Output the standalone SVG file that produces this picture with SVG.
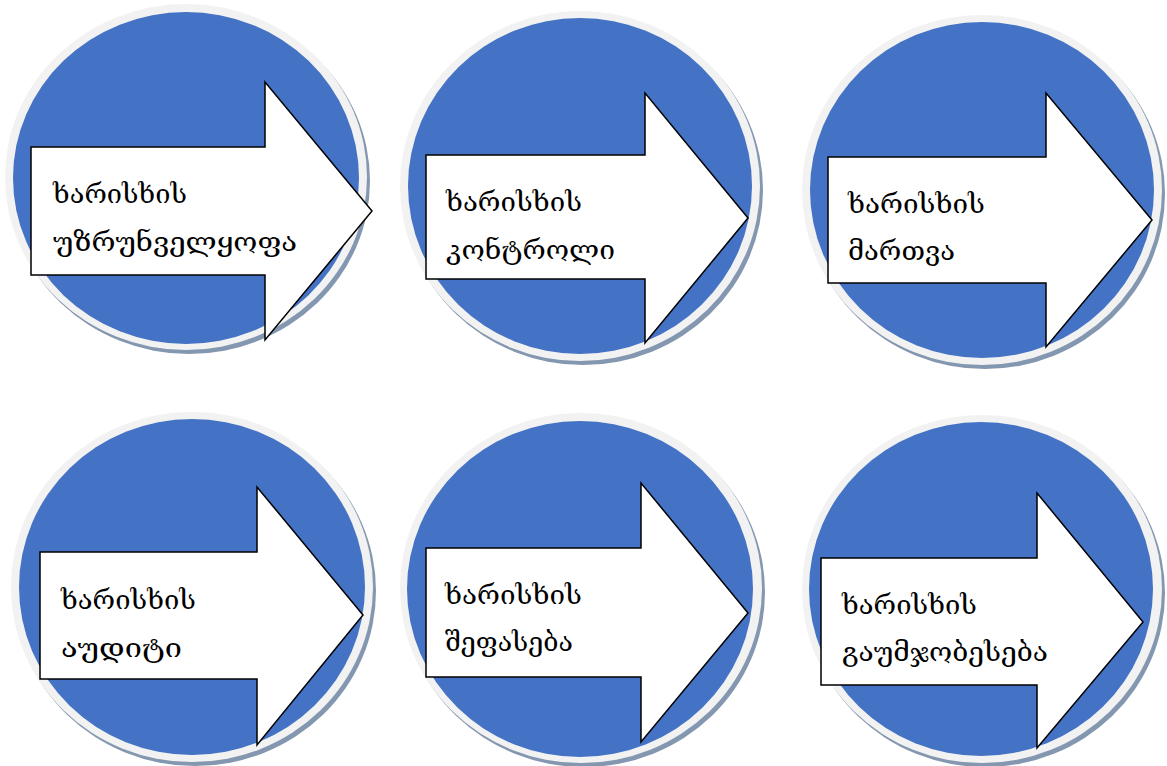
<svg xmlns="http://www.w3.org/2000/svg" width="1167" height="766" viewBox="0 0 1167 766">
<style>
.shadow{fill:#8497b0}
.ring{fill:#f2f2f2}
.disc{fill:#4472c4}
.arrow{fill:#ffffff;stroke:#000000;stroke-width:1.5;stroke-linejoin:miter}
.lbl{font-family:"DejaVu Serif",serif;font-size:26px;fill:#000000}
</style>
<rect width="1167" height="766" fill="#ffffff"/>
<g id="node1">
<ellipse class="shadow" cx="189" cy="181" rx="181" ry="173"/>
<ellipse class="ring" cx="186" cy="177" rx="181" ry="173"/>
<ellipse class="disc" cx="186" cy="178" rx="173" ry="166"/>
<polygon class="arrow" points="31,147 265,147 265,82 372,211 265,340 265,275 31,275"/>
<text class="lbl" x="53" y="203" textLength="134" lengthAdjust="spacingAndGlyphs">ხარისხის</text>
<text class="lbl" x="53" y="251" textLength="244" lengthAdjust="spacingAndGlyphs">უზრუნველყოფა</text>
</g>
<g id="node2">
<ellipse class="shadow" cx="583" cy="190" rx="180" ry="175"/>
<ellipse class="ring" cx="580" cy="186" rx="180" ry="175"/>
<ellipse class="disc" cx="580" cy="186" rx="172" ry="168"/>
<polygon class="arrow" points="426,155 645,155 645,93 748,218 645,343 645,279 426,279"/>
<text class="lbl" x="446" y="211" textLength="136" lengthAdjust="spacingAndGlyphs">ხარისხის</text>
<text class="lbl" x="446" y="259" textLength="169" lengthAdjust="spacingAndGlyphs">კონტროლი</text>
</g>
<g id="node3">
<ellipse class="shadow" cx="985" cy="194" rx="180" ry="175"/>
<ellipse class="ring" cx="982" cy="190" rx="180" ry="175"/>
<ellipse class="disc" cx="982" cy="190" rx="172" ry="168"/>
<polygon class="arrow" points="828,157 1046,157 1046,93 1152,220 1046,347 1046,283 828,283"/>
<text class="lbl" x="848" y="213" textLength="137" lengthAdjust="spacingAndGlyphs">ხარისხის</text>
<text class="lbl" x="848" y="260" textLength="107" lengthAdjust="spacingAndGlyphs">მართვა</text>
</g>
<g id="node4">
<ellipse class="shadow" cx="195" cy="591" rx="181" ry="175"/>
<ellipse class="ring" cx="192" cy="587" rx="181" ry="175"/>
<ellipse class="disc" cx="192" cy="587" rx="173" ry="168"/>
<polygon class="arrow" points="40,552 257,552 257,487 363,615 257,745 257,679 40,679"/>
<text class="lbl" x="61" y="609" textLength="135" lengthAdjust="spacingAndGlyphs">ხარისხის</text>
<text class="lbl" x="61" y="657" textLength="121" lengthAdjust="spacingAndGlyphs">აუდიტი</text>
</g>
<g id="node5">
<ellipse class="shadow" cx="584" cy="592" rx="181" ry="175"/>
<ellipse class="ring" cx="581" cy="588" rx="181" ry="175"/>
<ellipse class="disc" cx="580" cy="589" rx="173" ry="168"/>
<polygon class="arrow" points="426,548 641,548 641,483 748,613 641,742 641,677 426,677"/>
<text class="lbl" x="445" y="604" textLength="137" lengthAdjust="spacingAndGlyphs">ხარისხის</text>
<text class="lbl" x="445" y="651" textLength="128" lengthAdjust="spacingAndGlyphs">შეფასება</text>
</g>
<g id="node6">
<ellipse class="shadow" cx="985" cy="593" rx="180" ry="174"/>
<ellipse class="ring" cx="982" cy="589" rx="180" ry="174"/>
<ellipse class="disc" cx="981" cy="589" rx="172" ry="167"/>
<polygon class="arrow" points="821,558 1037,558 1037,493 1143,622 1037,748 1037,685 821,685"/>
<text class="lbl" x="842" y="614" textLength="135" lengthAdjust="spacingAndGlyphs">ხარისხის</text>
<text class="lbl" x="842" y="661" textLength="206" lengthAdjust="spacingAndGlyphs">გაუმჯობესება</text>
</g>
<g id="connectors"></g>
</svg>
